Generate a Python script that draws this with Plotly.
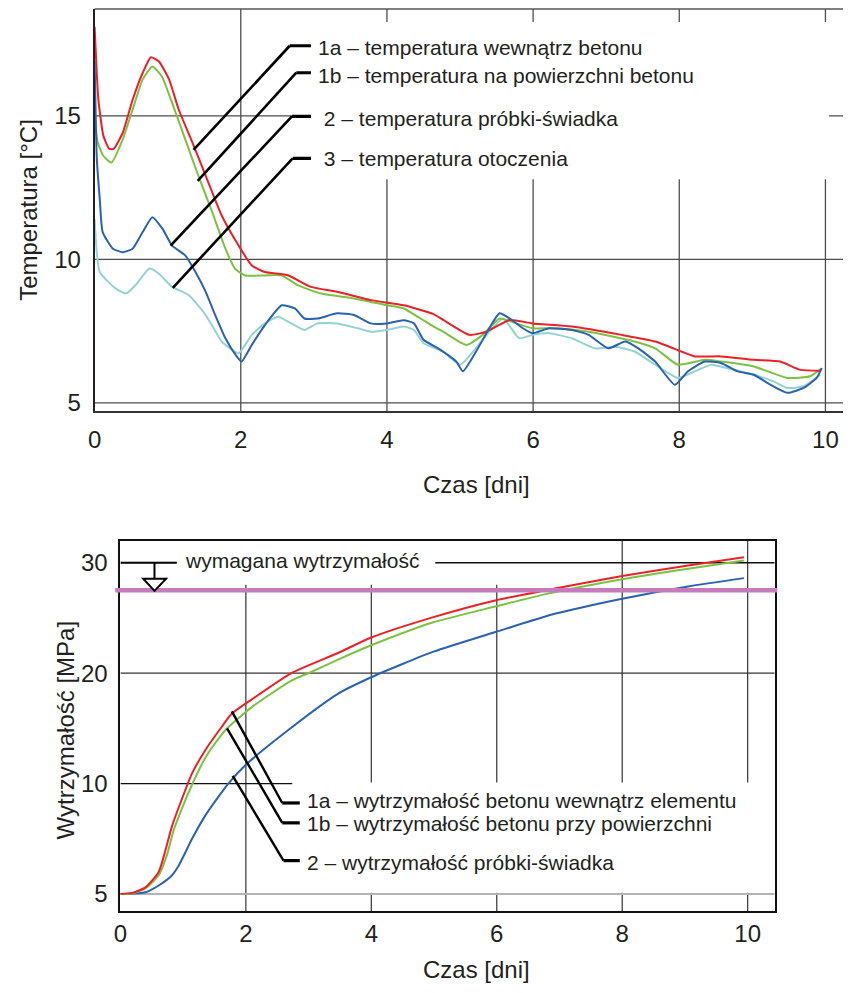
import plotly.graph_objects as go

# ---------------- DATA: top chart (temperatures, °C) ----------------
t1a_x = [0.00, 0.05, 0.12, 0.20, 0.26, 0.385, 0.52, 0.657, 0.77, 0.88, 1.02, 1.15, 1.34, 1.52, 1.74, 1.97,
         2.15, 2.33, 2.65, 2.96, 3.32, 3.78, 4.23, 4.63, 4.77, 5.13, 5.36, 5.68, 5.99, 6.53, 7.21, 7.67,
         8.03, 8.21, 8.57, 9.02, 9.38, 9.66, 9.93]
t1a_y = [18.1, 15.6, 14.3, 13.85, 13.85, 14.41, 15.56, 16.49, 17.04, 16.89, 16.26, 15.22, 14.06, 12.91, 11.52, 10.48,
         9.79, 9.56, 9.44, 9.04, 8.87, 8.58, 8.40, 8.10, 7.89, 7.37, 7.48, 7.89, 7.77, 7.66, 7.37, 7.14,
         6.79, 6.62, 6.62, 6.50, 6.44, 6.15, 6.12]

t1b_x = [0.00, 0.04, 0.12, 0.23, 0.385, 0.52, 0.657, 0.79, 0.92, 1.06, 1.24, 1.42, 1.61, 1.79, 1.92, 2.06,
         2.33, 2.56, 2.78, 3.10, 3.55, 4.00, 4.23, 4.46, 4.64, 4.77, 5.09, 5.31, 5.54, 5.77, 5.99, 6.31,
         6.76, 7.31, 7.67, 7.98, 8.35, 8.57, 9.02, 9.48, 9.79, 9.95]
t1b_y = [15.0, 14.1, 13.6, 13.37, 14.18, 15.22, 16.26, 16.72, 16.37, 15.45, 14.18, 12.91, 11.64, 10.37, 9.68, 9.44,
         9.44, 9.44, 9.10, 8.81, 8.64, 8.40, 8.29, 7.94, 7.66, 7.48, 7.02, 7.37, 7.94, 7.77, 7.60, 7.60,
         7.48, 7.19, 6.90, 6.33, 6.50, 6.44, 6.27, 5.87, 5.93, 6.21]

t2_x = [0.00, 0.03, 0.07, 0.11, 0.25, 0.385, 0.52, 0.657, 0.79, 0.93, 1.06, 1.24, 1.38, 1.52, 1.65, 1.79,
        1.93, 2.01, 2.15, 2.33, 2.56, 2.74, 2.87, 3.05, 3.32, 3.55, 3.78, 4.00, 4.23, 4.37, 4.50, 4.70,
        4.95, 5.04, 5.22, 5.40, 5.54, 5.68, 5.86, 5.99, 6.22, 6.53, 6.76, 7.03, 7.26, 7.44, 7.67, 7.94,
        8.12, 8.35, 8.57, 8.80, 9.02, 9.25, 9.48, 9.70, 9.88, 9.95]
t2_y = [16.9, 13.5, 12.1, 10.95, 10.37, 10.25, 10.37, 10.95, 11.47, 11.06, 10.48, 10.14, 9.56, 8.87, 8.06, 7.25,
        6.67, 6.44, 7.02, 7.71, 8.40, 8.29, 7.94, 7.94, 8.12, 8.06, 7.77, 7.77, 7.88, 7.77, 7.20, 6.90,
        6.44, 6.10, 6.79, 7.60, 8.12, 7.94, 7.60, 7.43, 7.60, 7.54, 7.37, 6.90, 7.14, 6.90, 6.44, 5.63,
        6.10, 6.44, 6.39, 6.10, 5.98, 5.63, 5.35, 5.52, 5.87, 6.21]

t3_x = [0.00, 0.07, 0.29, 0.43, 0.56, 0.75, 0.88, 1.06, 1.29, 1.52, 1.74, 1.97, 2.15, 2.33, 2.51, 2.69,
        2.87, 3.05, 3.32, 3.60, 3.78, 4.00, 4.23, 4.37, 4.50, 4.77, 5.00, 5.18, 5.40, 5.59, 5.81, 5.99,
        6.22, 6.53, 6.85, 7.12, 7.39, 7.67, 7.98, 8.21, 8.44, 8.66, 9.02, 9.29, 9.48, 9.70, 9.93]
t3_y = [11.4, 9.56, 8.98, 8.81, 9.10, 9.68, 9.50, 9.04, 8.75, 8.06, 7.14, 6.73, 7.37, 7.77, 8.00, 7.77,
        7.54, 7.77, 7.77, 7.60, 7.48, 7.54, 7.66, 7.54, 7.08, 6.79, 6.33, 6.79, 7.48, 7.94, 7.25, 7.37,
        7.43, 7.25, 6.90, 6.96, 6.79, 6.33, 5.87, 6.10, 6.33, 6.21, 5.98, 5.75, 5.52, 5.58, 5.98]

temp_labels = ["1a \u2013 temperatura wewnątrz betonu",
               "1b \u2013 temperatura na powierzchni betonu",
               " 2 \u2013 temperatura próbki-świadka",
               " 3 \u2013 temperatura otoczenia"]
temp_xticks = [0, 2, 4, 6, 8, 10]
temp_yticks = [5, 10, 15]

# ---------------- DATA: bottom chart (strength, MPa axis units) ----------------
s1a_x = [0, 0.19, 0.40, 0.61, 0.72, 0.82, 0.98, 1.14, 1.35, 1.61, 1.77, 2.09, 2.72, 3.46, 3.99, 4.95,
         5.99, 6.78, 8.0, 9.05, 9.94]
s1a_y = [0, 0.1, 0.6, 2.0, 4.0, 6.1, 8.6, 10.9, 13.0, 15.1, 16.3, 17.6, 19.98, 21.8, 23.2, 25.0,
         26.6, 27.5, 28.8, 29.75, 30.5]

s1b_x = [0, 0.19, 0.40, 0.61, 0.74, 0.85, 1.00, 1.15, 1.35, 1.61, 1.70, 2.09, 2.72, 3.04, 3.46, 3.99,
         4.99, 5.99, 6.78, 8.0, 9.05, 9.94]
s1b_y = [0, 0.05, 0.5, 1.7, 3.5, 5.8, 8.0, 10.0, 12.3, 14.4, 15.0, 16.9, 19.3, 20.1, 21.2, 22.5,
         24.6, 26.05, 27.15, 28.5, 29.45, 30.2]

s2_x = [0, 0.2, 0.40, 0.61, 0.82, 0.93, 1.14, 1.35, 1.61, 1.72, 2.0, 2.62, 3.46, 3.99, 4.99, 5.99,
        6.94, 8.0, 9.05, 9.94]
s2_y = [0, 0.03, 0.16, 0.77, 1.67, 2.57, 4.97, 7.07, 9.17, 10.0, 11.7, 14.6, 18.1, 19.6, 21.94, 23.74,
        25.39, 26.74, 27.85, 28.6]

required_strength = 27.5
strength_labels = ["1a \u2013 wytrzymałość betonu wewnątrz elementu",
                   "1b \u2013 wytrzymałość betonu przy powierzchni",
                   "2 \u2013 wytrzymałość próbki-świadka"]
required_label = "wymagana wytrzymałość"
str_xticks = [0, 2, 4, 6, 8, 10]
str_ytickvals = [0, 10, 20, 30]
str_yticktext = ["5", "10", "20", "30"]

# ---------------- STYLE ----------------
FONT = "Liberation Sans, Arial, Helvetica, sans-serif"
TXT = "#231f20"
RED, GREEN, BLUE, CYAN = "#ec2027", "#7cc242", "#2a62b0", "#93d4d2"
PINK = "#c67bbb"

# layout geometry: page is 851x993, the figure div sits 8px in (body margin)
OFF = 8
W, H = 851 - OFF, 993 - OFF


def px(X):
    return (X - OFF) / W


def py(Y):
    return 1 - (Y - OFF) / H


top_x_dom = [px(88.3), 1.0]
top_y_dom = [py(413.3), py(9)]
bot_x_dom = [px(114.3), px(774)]
bot_y_dom = [py(915.7), py(543.3)]
top_xr = [0, 10.35]
top_yr = [4.71, 18.72]
bot_xr = [0, 10.43]
bot_yr = [-1.55, 32.0]

fig = go.Figure()

line_kw = dict(mode="lines", hoverinfo="skip", showlegend=False)
fig.add_trace(go.Scatter(x=t3_x, y=t3_y, line=dict(color=CYAN, width=2, shape="spline", smoothing=0.5),
                         xaxis="x", yaxis="y", **line_kw))
fig.add_trace(go.Scatter(x=t1b_x, y=t1b_y, line=dict(color=GREEN, width=2, shape="spline", smoothing=0.5),
                         xaxis="x", yaxis="y", **line_kw))
fig.add_trace(go.Scatter(x=t1a_x, y=t1a_y, line=dict(color=RED, width=2, shape="spline", smoothing=0.5),
                         xaxis="x", yaxis="y", **line_kw))
fig.add_trace(go.Scatter(x=t2_x, y=t2_y, line=dict(color=BLUE, width=2, shape="spline", smoothing=0.5),
                         xaxis="x", yaxis="y", **line_kw))

fig.add_trace(go.Scatter(x=s2_x, y=s2_y, line=dict(color=BLUE, width=2, shape="spline", smoothing=0.6),
                         xaxis="x2", yaxis="y2", **line_kw))
fig.add_trace(go.Scatter(x=s1b_x, y=s1b_y, line=dict(color=GREEN, width=2, shape="spline", smoothing=0.6),
                         xaxis="x2", yaxis="y2", **line_kw))
fig.add_trace(go.Scatter(x=s1a_x, y=s1a_y, line=dict(color=RED, width=2, shape="spline", smoothing=0.6),
                         xaxis="x2", yaxis="y2", **line_kw))

shapes = []


def seg(xr, yr, x0, y0, x1, y1, color, width, layer="below"):
    shapes.append(dict(type="line", xref=xr, yref=yr, x0=x0, y0=y0, x1=x1, y1=y1,
                       line=dict(color=color, width=width), layer=layer))


# ---- top chart grid (broken behind the label block) ----
GC = "#4d4d4d"
seg("x", "y", 2, top_yr[0], 2, top_yr[1], GC, 1.3)
for xv in [4, 6, 8, 10]:
    seg("x", "y", xv, top_yr[0], xv, 12.79, GC, 1.3)
    seg("x", "y", xv, 18.27, xv, top_yr[1], GC, 1.3)
seg("x", "y", 0, 5, top_xr[1], 5, GC, 1.3)
seg("x", "y", 0, 10, top_xr[1], 10, GC, 1.3)
seg("x", "y", 0, 15, 2.70, 15, GC, 1.3)
seg("x", "y", 10.05, 15, top_xr[1], 15, GC, 1.3)
# top border
seg("x domain", "y domain", 0, 1, 1, 1, "#808080", 2)

# ---- top chart leader lines ----
temp_leaders = [  # (elbow x, elbow y, end x on curve, end y on curve)
    (2.67, 17.44, 1.353, 13.81),
    (2.76, 16.50, 1.41, 12.73),
    (2.70, 14.98, 1.04, 10.48),
    (2.71, 13.52, 1.07, 9.01),
]
for (ex, ey, cx, cy) in temp_leaders:
    seg("x", "y", ex, ey, 2.96, ey, "black", 3.2, "above")
    seg("x", "y", ex, ey, cx, cy, "black", 2.6, "above")

# ---- bottom chart grid ----
GC2 = "#333333"
seg("x2", "y2", 2, bot_yr[0], 2, 28.0, GC2, 1.2)
for xv in [4, 6]:
    seg("x2", "y2", xv, bot_yr[0], xv, 0.1, GC2, 1.2)
    seg("x2", "y2", xv, 10.1, xv, 28.0, GC2, 1.2)
for xv in [8, 10]:
    seg("x2", "y2", xv, bot_yr[0], xv, 0.1, GC2, 1.2)
    seg("x2", "y2", xv, 10.1, xv, bot_yr[1], GC2, 1.2)
seg("x2", "y2", 0, 0, bot_xr[1], 0, "#b4b4b4", 2)
seg("x2", "y2", 0, 10, 2.74, 10, "#111111", 1.3)
seg("x2", "y2", 0, 20, bot_xr[1], 20, GC2, 1.2)
seg("x2", "y2", 5.02, 30, bot_xr[1], 30, "#111111", 1.5)

# required strength line
shapes.append(dict(type="line", xref="x2 domain", yref="y2", x0=-0.008, x1=1.004,
                   y0=required_strength, y1=required_strength,
                   line=dict(color=PINK, width=4.5), layer="above"))
# required-strength marker (leader + stem + triangle)
seg("x2", "y2", 0.0, 30.0, 0.90, 30.0, "black", 2, "above")
seg("x2", "y2", 0.543, 30.0, 0.543, 28.54, "black", 2, "above")
shapes.append(dict(type="path", xref="x2", yref="y2",
                   path="M 0.364 28.54 L 0.728 28.54 L 0.543 %.2f Z" % (required_strength - 0.05),
                   fillcolor="white", line=dict(color="black", width=2), layer="above"))

# bottom leader lines
str_leaders = [
    (1.777, 16.53, 2.58, 8.24),
    (1.70, 15.0, 2.58, 6.44),
    (1.79, 10.7, 2.60, 3.02),
]
for (cx, cy, ex, ey) in str_leaders:
    seg("x2", "y2", cx, cy, ex, ey, "black", 2.4, "above")
    seg("x2", "y2", ex, ey, 2.86, ey, "black", 3.2, "above")

annotations = []
ANN_SIZE = 21
temp_label_y = [17.38, 16.40, 14.90, 13.51]
for lab, ly in zip(temp_labels, temp_label_y):
    annotations.append(dict(xref="x", yref="y", x=3.03, y=ly, text=lab, showarrow=False,
                            xanchor="left", yanchor="middle",
                            font=dict(family=FONT, size=ANN_SIZE, color=TXT)))
str_label_y = [8.42, 6.38, 2.86]
for lab, ly in zip(strength_labels, str_label_y):
    annotations.append(dict(xref="x2", yref="y2", x=2.95, y=ly, text=lab, showarrow=False,
                            xanchor="left", yanchor="middle",
                            font=dict(family=FONT, size=ANN_SIZE, color=TXT)))
annotations.append(dict(xref="x2", yref="y2", x=1.00, y=30.2, text=required_label, showarrow=False,
                        xanchor="left", yanchor="middle",
                        font=dict(family=FONT, size=ANN_SIZE, color=TXT)))

# axis titles
TS = 24
annotations += [
    dict(xref="paper", yref="paper", x=px(473), y=py(487), text="Czas [dni]", showarrow=False,
         xanchor="center", yanchor="middle", font=dict(family=FONT, size=TS, color=TXT)),
    dict(xref="paper", yref="paper", x=px(473), y=py(974), text="Czas [dni]", showarrow=False,
         xanchor="center", yanchor="middle", font=dict(family=FONT, size=TS, color=TXT)),
    dict(xref="paper", yref="paper", x=px(22), y=py(211), text="Temperatura [°C]", showarrow=False,
         textangle=-90, xanchor="center", yanchor="middle", font=dict(family=FONT, size=TS, color=TXT)),
    dict(xref="paper", yref="paper", x=px(58.5), y=py(734), text="Wytrzymałość [MPa]", showarrow=False,
         textangle=-90, xanchor="center", yanchor="middle", font=dict(family=FONT, size=TS, color=TXT)),
]

tickfont = dict(family=FONT, size=24, color=TXT)
fig.update_layout(
    width=W, height=H, margin=dict(l=0, r=0, t=0, b=0),
    paper_bgcolor="white", plot_bgcolor="white",
    showlegend=False,
    xaxis=dict(domain=top_x_dom, range=top_xr, anchor="y", tickvals=temp_xticks, showgrid=False,
               zeroline=False, showline=True, linecolor="#333333", linewidth=2, ticks="",
               ticklabelstandoff=6, tickfont=tickfont, fixedrange=True),
    yaxis=dict(domain=top_y_dom, range=top_yr, anchor="x", tickvals=temp_yticks, showgrid=False,
               zeroline=False, showline=True, linecolor="#231f20", linewidth=2, ticks="",
               ticklabelstandoff=7, tickfont=tickfont, fixedrange=True),
    xaxis2=dict(domain=bot_x_dom, range=bot_xr, anchor="y2", tickvals=str_xticks, showgrid=False,
                zeroline=False, showline=True, mirror=True, linecolor="#111111", linewidth=2, ticks="",
                ticklabelstandoff=0, tickfont=tickfont, fixedrange=True),
    yaxis2=dict(domain=bot_y_dom, range=bot_yr, anchor="x2", tickvals=str_ytickvals, ticktext=str_yticktext,
                showgrid=False, zeroline=False, showline=True, mirror=True, linecolor="#111111", linewidth=2,
                ticks="", ticklabelstandoff=6, tickfont=tickfont, fixedrange=True),
    shapes=shapes,
    annotations=annotations,
)

fig.write_html("out.html")
